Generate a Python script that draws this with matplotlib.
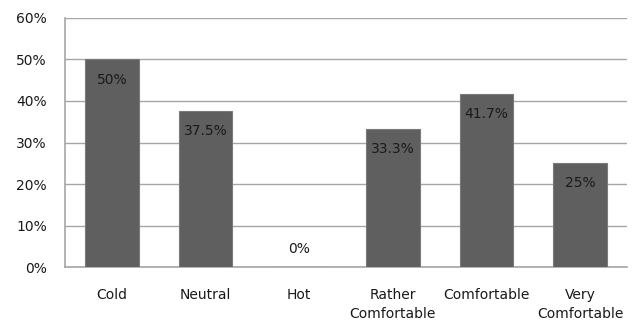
import matplotlib
matplotlib.use('Agg')
import matplotlib.pyplot as plt
from matplotlib.ticker import FuncFormatter

categories = ['Cold', 'Neutral', 'Hot', 'Rather\nComfortable', 'Comfortable', 'Very\nComfortable']
values = [50, 37.5, 0, 33.3, 41.7, 25]
bar_labels = ['50%', '37.5%', '0%', '33.3%', '41.7%', '25%']
yticks = [0, 10, 20, 30, 40, 50, 60]

bar_color = '#5f5f5f'
grid_color = '#a6a6a6'
text_color = '#1a1a1a'

plt.rcParams['font.family'] = ['DejaVu Sans']

fig = plt.figure(figsize=(6.32, 3.25), dpi=100, facecolor='white')
ax = fig.add_axes([0.103, 0.178, 0.889, 0.767])

x = range(len(categories))
ax.bar(x, values, width=0.57, color=bar_color, edgecolor='#7a7a7a', linewidth=0.8, zorder=3)

for i, (v, lab) in enumerate(zip(values, bar_labels)):
    if v == 0:
        ax.annotate(lab, (i, v), xytext=(0, 13), textcoords='offset points',
                    ha='center', va='center', fontsize=10, color=text_color, zorder=4)
    else:
        ax.annotate(lab, (i, v), xytext=(0, -14.5), textcoords='offset points',
                    ha='center', va='center', fontsize=10, color=text_color, zorder=4)

ax.set_ylim(0, 60)
ax.set_xlim(-0.5, len(categories) - 0.5)
ax.set_yticks(yticks)
ax.yaxis.set_major_formatter(FuncFormatter(lambda v, p: '%d%%' % v))
ax.set_xticks(list(x))
ax.set_xticklabels(categories, linespacing=1.5)

ax.grid(axis='y', color=grid_color, linewidth=1, zorder=0)
ax.tick_params(axis='both', length=0, labelsize=10, colors=text_color)
ax.tick_params(axis='y', pad=13)
ax.tick_params(axis='x', pad=15)

for s in ['top', 'right']:
    ax.spines[s].set_visible(False)
for s in ['left', 'bottom']:
    ax.spines[s].set_color(grid_color)
    ax.spines[s].set_linewidth(1.2)

fig.savefig('out.png', dpi=100, facecolor='white')
